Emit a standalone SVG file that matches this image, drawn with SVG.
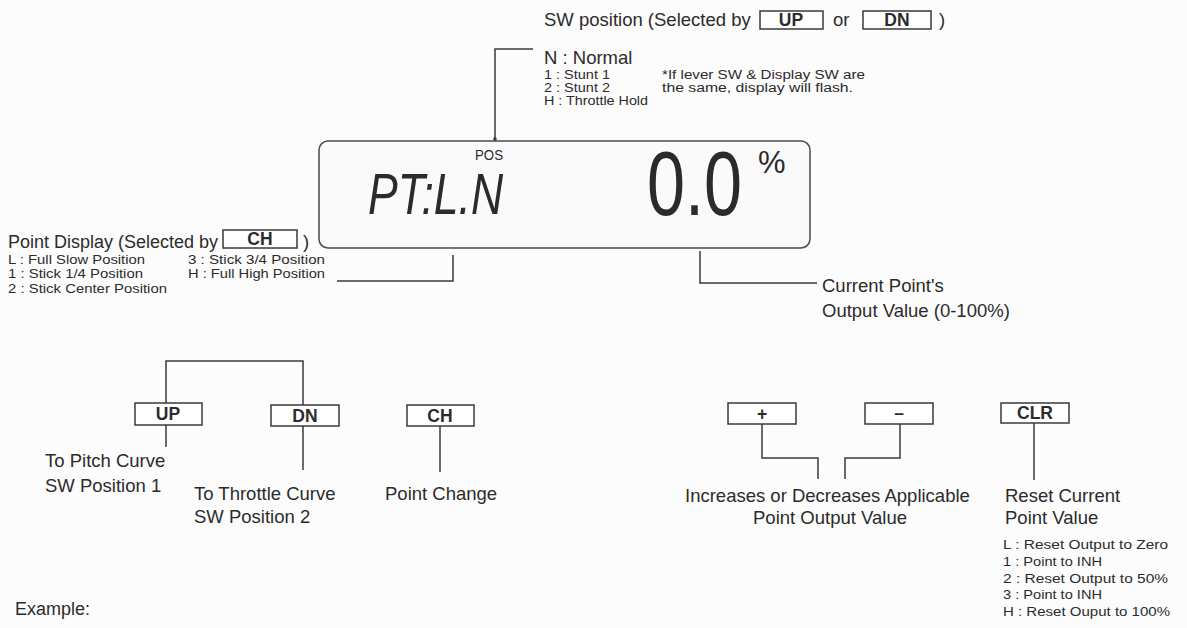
<svg xmlns="http://www.w3.org/2000/svg" width="1187" height="628" viewBox="0 0 1187 628">
<style>
.t{font-family:"Liberation Sans",Arial,sans-serif;fill:#2b2b2b}
.l{font-size:18.5px}
.s{font-size:12.5px}
.k{font-family:"Liberation Sans",Arial,sans-serif;font-weight:bold;font-size:17.5px;fill:#2b2b2b;text-anchor:middle}
.box{fill:#fff;stroke:#3a3a3a;stroke-width:1.5}
.c{fill:none;stroke:#3a3a3a;stroke-width:1.5}
</style>
<rect width="1187" height="628" fill="#fcfcfc"/>

<g id="lcd">
<rect x="319" y="141" width="491" height="107" rx="9" fill="#fafafa" stroke="#4a4a4a" stroke-width="1.5"/>
<text class="t" x="475" y="160" font-size="14" textLength="28" lengthAdjust="spacingAndGlyphs">POS</text>
<text class="t" x="368" y="214" font-size="58" font-style="italic" textLength="135" lengthAdjust="spacingAndGlyphs">PT:L.N</text>
<text class="t" font-size="90" transform="translate(647,215) scale(0.76,1)">0.0</text>
<text class="t" x="758" y="173" font-size="31">%</text>
</g>

<g id="sw-position">
<text class="t l" x="544" y="26">SW position (Selected by</text>
<rect class="box" x="760" y="11" width="63" height="18"/>
<text class="k" x="791" y="26">UP</text>
<text class="t l" x="833" y="26">or</text>
<rect class="box" x="863" y="11" width="68" height="18"/>
<text class="k" x="897" y="26">DN</text>
<text class="t l" x="939" y="26">)</text>
<text class="t l" x="544" y="64">N : Normal</text>
<text class="t s" x="544" y="79" textLength="66" lengthAdjust="spacingAndGlyphs">1 : Stunt 1</text>
<text class="t s" x="544" y="92" textLength="66" lengthAdjust="spacingAndGlyphs">2 : Stunt 2</text>
<text class="t s" x="544" y="105" textLength="104" lengthAdjust="spacingAndGlyphs">H : Throttle Hold</text>
<text class="t s" x="662" y="79" textLength="203" lengthAdjust="spacingAndGlyphs">*If lever SW &amp; Display SW are</text>
<text class="t s" x="662" y="92" textLength="191" lengthAdjust="spacingAndGlyphs">the same, display will flash.</text>
</g>

<g id="point-display">
<text class="t" font-size="18" x="8" y="248">Point Display (Selected by</text>
<rect class="box" x="223" y="230" width="74" height="18"/>
<text class="k" x="260" y="245">CH</text>
<text class="t l" x="303" y="248">)</text>
<text class="t s" x="8" y="264" textLength="137" lengthAdjust="spacingAndGlyphs">L : Full Slow Position</text>
<text class="t s" x="8" y="278" textLength="135" lengthAdjust="spacingAndGlyphs">1 : Stick 1/4 Position</text>
<text class="t s" x="8" y="293" textLength="159" lengthAdjust="spacingAndGlyphs">2 : Stick Center Position</text>
<text class="t s" x="188" y="264" textLength="137" lengthAdjust="spacingAndGlyphs">3 : Stick 3/4 Position</text>
<text class="t s" x="188" y="278" textLength="137" lengthAdjust="spacingAndGlyphs">H : Full High Position</text>
</g>

<g id="current-point">
<text class="t l" x="822" y="292">Current Point's</text>
<text class="t l" x="822" y="317">Output Value (0-100%)</text>
</g>

<g id="key-up">
<rect class="box" x="135" y="403" width="67" height="22"/>
<text class="k" x="168" y="420">UP</text>
<text class="t l" x="45" y="467">To Pitch Curve</text>
<text class="t l" x="45" y="492">SW Position 1</text>
</g>
<g id="key-dn">
<rect class="box" x="271" y="405" width="68" height="21"/>
<text class="k" x="305" y="422">DN</text>
<text class="t l" x="194" y="500">To Throttle Curve</text>
<text class="t l" x="194" y="523">SW Position 2</text>
</g>
<g id="key-ch">
<rect class="box" x="407" y="405" width="67" height="21"/>
<text class="k" x="440" y="422">CH</text>
<text class="t l" x="385" y="500">Point Change</text>
</g>
<g id="key-plus">
<rect class="box" x="728" y="403" width="68" height="21"/>
<text class="k" x="762" y="420">+</text>
</g>
<g id="key-minus">
<rect class="box" x="865" y="403" width="68" height="21"/>
<text class="k" x="899" y="419">–</text>
</g>
<g id="inc-dec">
<text class="t l" x="685" y="502">Increases or Decreases Applicable</text>
<text class="t l" x="830" y="524" text-anchor="middle">Point Output Value</text>
</g>
<g id="key-clr">
<rect class="box" x="1001" y="403" width="68" height="20"/>
<text class="k" x="1035" y="419">CLR</text>
<text class="t l" x="1005" y="502">Reset Current</text>
<text class="t l" x="1005" y="524">Point Value</text>
<text class="t s" x="1003" y="549" textLength="165" lengthAdjust="spacingAndGlyphs">L : Reset Output to Zero</text>
<text class="t s" x="1003" y="566" textLength="99" lengthAdjust="spacingAndGlyphs">1 : Point to INH</text>
<text class="t s" x="1003" y="583" textLength="165" lengthAdjust="spacingAndGlyphs">2 : Reset Output to 50%</text>
<text class="t s" x="1003" y="599" textLength="99" lengthAdjust="spacingAndGlyphs">3 : Point to INH</text>
<text class="t s" x="1003" y="616" textLength="167" lengthAdjust="spacingAndGlyphs">H : Reset Ouput to 100%</text>
</g>

<g id="example">
<text class="t" x="15" y="615" font-size="18">Example:</text>
</g>

<g id="connectors">
<path class="c" d="M533 49 H495 V139"/>
<circle cx="495" cy="139" r="1.8" fill="#3a3a3a"/>
<path class="c" d="M337 281 H453 V255"/>
<path class="c" d="M700 251 V283 H817"/>
<path class="c" d="M166 403 V361 H303 V405"/>
<path class="c" d="M166 425 V447"/>
<path class="c" d="M303 426 V470"/>
<path class="c" d="M440 426 V472"/>
<path class="c" d="M762 424 V458 H818 V479"/>
<path class="c" d="M900 424 V458 H845 V479"/>
<path class="c" d="M1034 423 V480"/>
</g>
</svg>
